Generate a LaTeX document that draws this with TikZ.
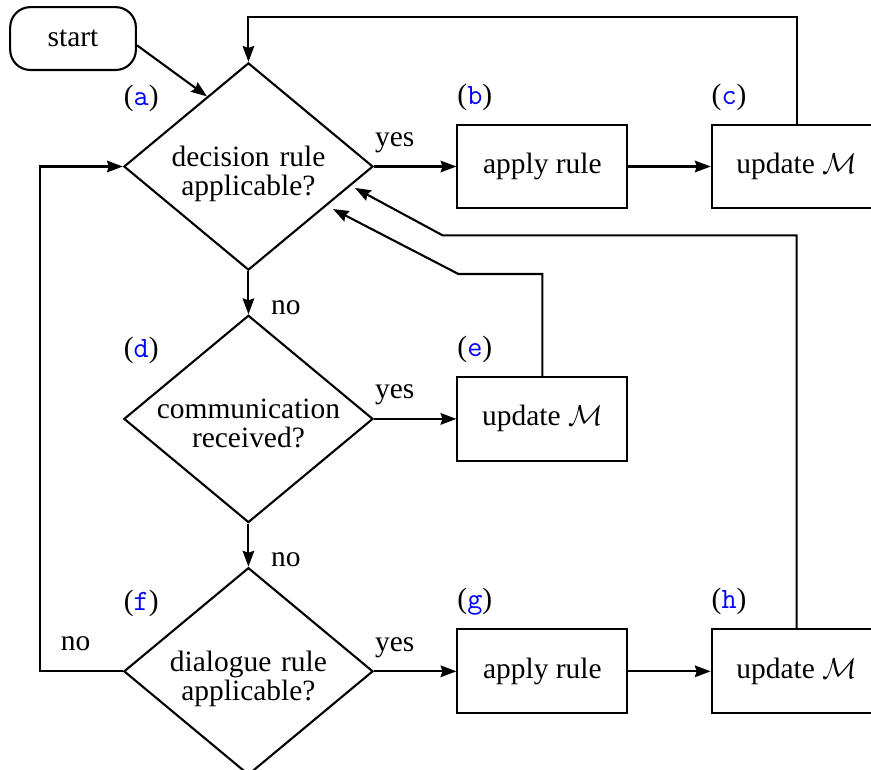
\documentclass[tikz,border=0pt]{standalone}
\usepackage{fontspec}
\setmainfont{Liberation Serif}
\usetikzlibrary{shapes.geometric,positioning,calc,arrows.meta}
\newcommand{\blueid}[1]{(\textcolor{blue}{\texttt{#1}})}
\begin{document}
\begin{tikzpicture}[
->,>={Stealth[length=6pt,width=4.4pt,inset=0.7pt]},thick,node distance=0.575cm and 1.1cm,
font=\fontsize{11.2}{11}\selectfont,
decision/.style={diamond,draw,aspect=1.2,inner sep=0pt,minimum width=3.33cm,minimum height=2.77cm,
  text width=2.6cm,align=center,text height=6pt,text depth=6pt},
block/.style={rectangle,draw,minimum width=2.27cm,minimum height=1.12cm},
startbox/.style={rectangle,draw,rounded corners=0.27cm,minimum width=1.68cm,minimum height=0.84cm},
tag/.style={anchor=base west,inner sep=0pt},
ylab/.style={anchor=base west,inner sep=0pt,yshift=0.27cm},
nlab/.style={anchor=base west,inner sep=0pt,xshift=0.29cm}]
\useasboundingbox (0,0) rectangle (11.64,-10.277);
%start
  \node[startbox] (start) at (0.976,-0.515) {start};
%a
  \node[decision] (a) at (3.32,-2.225) {decision rule\\applicable?};
  \node[tag] at ([yshift=0.815cm]a.west) {\blueid{a}};
%b
  \node[block] (b) [right=of a] {apply rule};
  \node[tag] at ([yshift=0.26cm]b.north west) {\blueid{b}};
%c
  \node[block] (c) [right=of b] {update $\mathcal{M}$};
  \node[tag] at ([yshift=0.26cm]c.north west) {\blueid{c}};
%d
  \node[decision] (d) [below=of a] {communication\\received?};
  \node[tag] at ([yshift=0.815cm]d.west) {\blueid{d}};
%e
  \node[block] (e) [right=of d] {update $\mathcal{M}$};
  \node[tag] at ([yshift=0.26cm]e.north west) {\blueid{e}};
%f
  \node[decision] (f) [below=of d] {dialogue rule\\applicable?};
  \node[tag] at ([yshift=0.815cm]f.west) {\blueid{f}};
%g
  \node[block] (g) [right=of f] {apply rule};
  \node[tag] at ([yshift=0.26cm]g.north west) {\blueid{g}};
%h
  \node[block] (h) [right=of g] {update $\mathcal{M}$};
  \node[tag] at ([yshift=0.26cm]h.north west) {\blueid{h}};
%bends
  \coordinate (ain) at ($(a.north)!0.33!(a.west)$);
  \coordinate (ctop) at ([yshift=1.42cm]c.north);
  \coordinate (etop) at ([yshift=1.363cm]e.north);
  \coordinate (ebend) at ([xshift=-1.123cm]etop);
  \coordinate (ein) at ($(a)+(1.129,-0.568)$);
  \coordinate (htop) at ([yshift=5.252cm]h.north);
  \coordinate (hbend) at ([xshift=-4.731cm]htop);
  \coordinate (hin) at ($(a)+(1.423,-0.287)$);
  \coordinate (fl) at ([xshift=-1.11cm]f.west);
%paths
  \path
    ([yshift=-0.09cm]start.east) edge (ain)
    (a) edge node[ylab,pos=0] {yes} (b)
        edge node[nlab,pos=1] {no} (d)
    (b) edge (c)
    (d) edge node[ylab,pos=0] {yes} (e)
        edge node[nlab,pos=1] {no} (f)
    (f) edge node[ylab,pos=0] {yes} (g)
    (g) edge (h);
  \draw (c.north) -- (ctop) -| (a.north);
  \draw (e.north) -- (etop) -- (ebend) -- (ein);
  \draw (h.north) -- (htop) -- (hbend) -- (hin);
  \draw (f.west) -- (fl) |- (a.west);
  \node[tag] at ([shift={(0.27,0.28)}]fl) {no};
\end{tikzpicture}
\end{document}
